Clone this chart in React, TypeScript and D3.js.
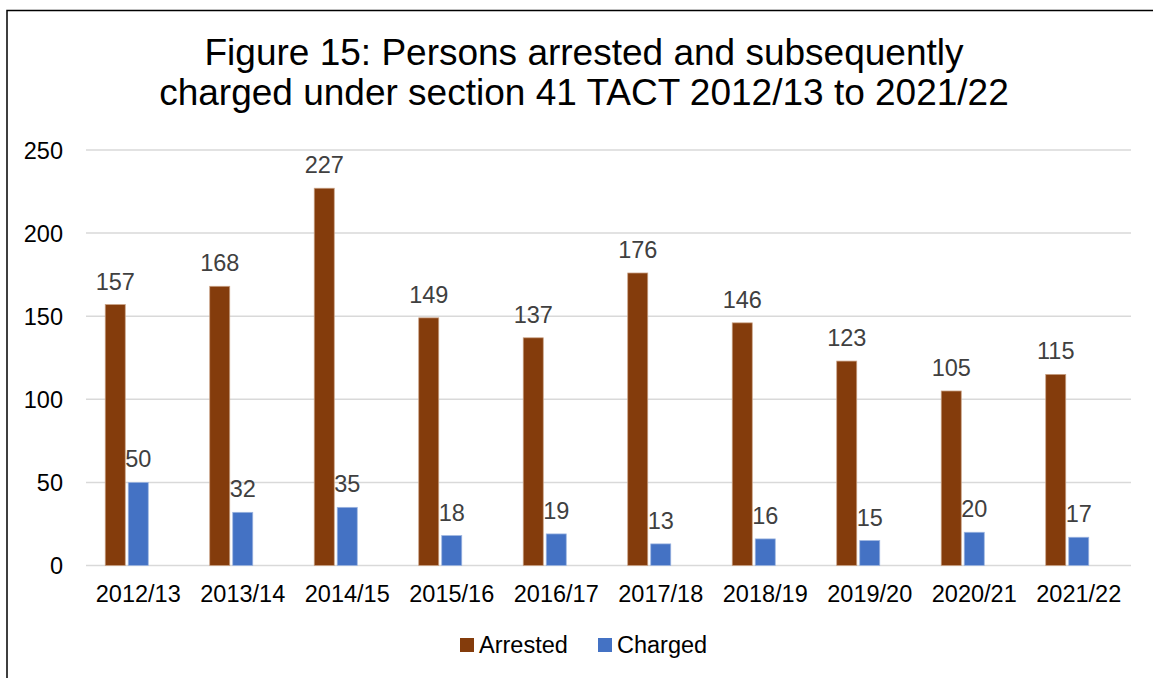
import React from "react";
import * as d3 from "d3";

const categories = ["2012/13","2013/14","2014/15","2015/16","2016/17","2017/18","2018/19","2019/20","2020/21","2021/22"];
const arrested = [157,168,227,149,137,176,146,123,105,115];
const charged = [50,32,35,18,19,13,16,15,20,17];
const seriesNames = ["Arrested","Charged"];
const yTicks = [0,50,100,150,200,250];
const titleLines = ["Figure 15: Persons arrested and subsequently","charged under section 41 TACT 2012/13 to 2021/22"];

const W = 1153, H = 678;
const colors: Record<string,string> = { Arrested: "#843C0C", Charged: "#4472C4" };
const strokes: Record<string,string> = { Arrested: "#C9A184", Charged: "#9DB5E0" };
const FONT = "'Liberation Sans', Arial, sans-serif";
const FS = 23.5;

export default function App() {
  const plotL = 86, plotR = 1131, plotT = 150, plotB = 565.5;
  const x0 = d3.scaleBand<string>().domain(categories).range([plotL, plotR]).paddingInner(0.368).paddingOuter(0.184);
  const x1 = d3.scaleBand<string>().domain(["Arrested","Charged","_"]).range([0, x0.bandwidth()]).paddingInner(0.13).paddingOuter(0);
  const y = d3.scaleLinear().domain([0,250]).range([plotB, plotT]);
  const data = categories.map((c,i)=>({c, Arrested: arrested[i], Charged: charged[i]}));
  return (
    <svg width={W} height={H} style={{position:"absolute",left:0,top:0,display:"block",background:"#fff"}} fontFamily={FONT}>
      <rect x={0} y={0} width={W} height={H} fill="#fff"/>
      <rect x={7} y={10.5} width={1300} height={800} fill="none" stroke="#000" strokeWidth={1.5}/>
      {titleLines.map((t,i)=>(
        <text key={i} x={584} y={65+i*40} textAnchor="middle" fontSize={37} fill="#000">{t}</text>
      ))}
      {yTicks.map(t=>(
        <g key={t}>
          <line x1={plotL} x2={plotR} y1={y(t)} y2={y(t)} stroke="#D9D9D9" strokeWidth={1.5}/>
          <text x={63} y={y(t)+8.5} textAnchor="end" fontSize={FS} fill="#000">{t}</text>
        </g>
      ))}
      {data.map(d=>(
        <g key={d.c} transform={`translate(${x0(d.c)},0)`}>
          {seriesNames.map(s=>{
            const v = (d as any)[s] as number;
            const bx = x1(s)!;
            const bw = x1.bandwidth();
            return (
              <g key={s}>
                <rect x={bx} y={y(v)} width={bw} height={plotB - y(v)} fill={colors[s]} stroke={strokes[s]} strokeWidth={0.75}/>
                <text x={bx+bw/2} y={y(v)-15} textAnchor="middle" fontSize={FS} fill="#404040">{v}</text>
              </g>
            );
          })}
          <text x={x0.bandwidth()/2} y={601.5} textAnchor="middle" fontSize={FS} fill="#000">{d.c}</text>
        </g>
      ))}
      <g>
        <rect x={460} y={638} width={14} height={14} fill={colors.Arrested}/>
        <text x={479} y={652.5} fontSize={FS} fill="#000">Arrested</text>
        <rect x={598} y={638} width={14} height={14} fill={colors.Charged}/>
        <text x={617} y={652.5} fontSize={FS} fill="#000">Charged</text>
      </g>
    </svg>
  );
}
